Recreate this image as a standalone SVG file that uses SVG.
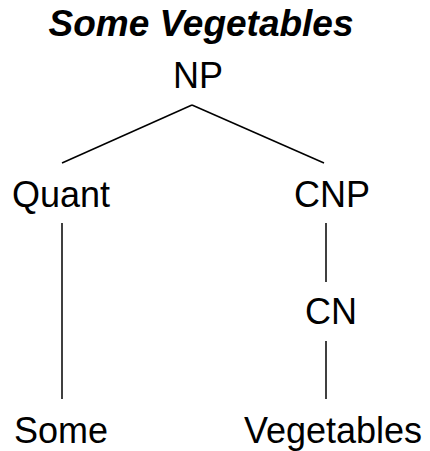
<svg xmlns="http://www.w3.org/2000/svg" width="430" height="451" viewBox="0 0 430 451">
<style>
text{font-family:"Liberation Sans",Arial,sans-serif;font-size:36px;fill:#000;text-anchor:middle}
.title{font-weight:bold;font-style:italic;font-size:37px}
.edge{stroke:#000;stroke-width:1.5;fill:none}
</style>
<rect width="430" height="451" fill="#fff"/>
<text class="title" x="201" y="36">Some Vegetables</text>
<g id="connectors">
<line class="edge" x1="192" y1="105" x2="62" y2="163"/>
<line class="edge" x1="192" y1="105" x2="324" y2="163"/>
<line class="edge" x1="62" y1="223" x2="62" y2="399"/>
<line class="edge" x1="326" y1="223" x2="326" y2="282"/>
<line class="edge" x1="326" y1="341" x2="326" y2="399"/>
</g>
<g id="np"><text x="198" y="88">NP</text></g>
<g id="quant"><text x="61" y="207">Quant</text></g>
<g id="cnp"><text x="332" y="207">CNP</text></g>
<g id="cn"><text x="331" y="324">CN</text></g>
<g id="some"><text x="61" y="443">Some</text></g>
<g id="vegetables"><text x="333" y="443">Vegetables</text></g>
</svg>
